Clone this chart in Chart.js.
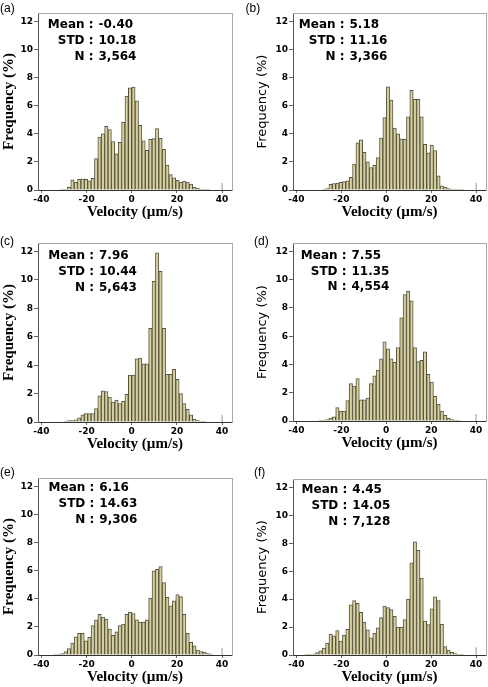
<!DOCTYPE html>
<html><head><meta charset="utf-8">
<script src="https://cdn.jsdelivr.net/npm/chart.js@4"></script>
<style>
html,body{margin:0;padding:0;background:#fff;}
body{width:488px;height:687px;position:relative;overflow:hidden;}
canvas{position:absolute;}
.lt{position:absolute;font:12px "Liberation Sans",Arial,sans-serif;color:#000;line-height:12px;white-space:nowrap;}
.st{position:absolute;font:bold 12px "DejaVu Sans",sans-serif;color:#000;line-height:15.7px;white-space:nowrap;}
.st span.l{display:inline-block;width:60px;text-align:right;}
.st span.v{margin-left:5px;}
</style></head><body>
<script>
// ---------- DATA ----------
const binCenters = [-36.75,-35.25,-33.75,-32.25,-30.75,-29.25,-27.75,-26.25,-24.75,-23.25,
  -21.75,-20.25,-18.75,-17.25,-15.75,-14.25,-12.75,-11.25,-9.75,-8.25,
  -6.75,-5.25,-3.75,-2.25,-0.75,0.75,2.25,3.75,5.25,6.75,
  8.25,9.75,11.25,12.75,14.25,15.75,17.25,18.75,20.25,21.75,
  23.25,24.75,26.25,27.75,29.25,30.75,32.25,33.75,35.25,36.75];

const freqA = [0,0,0,0,0.02,0.05,0.2,0.73,0.55,0.76,
  0.8,0.76,0.66,0.83,2.24,3.76,4.0,4.54,4.3,3.45,
  2.57,3.4,4.82,6.69,7.28,7.32,6.35,4.6,3.5,2.83,
  3.61,3.66,4.37,3.68,2.9,1.77,1.1,0.87,0.69,0.54,
  0.64,0.57,0.43,0.21,0.12,0.07,0.03,0.05,0,0];

const freqB = [0,0,0,0,0,0,0.05,0.1,0.4,0.45,
  0.5,0.55,0.6,0.65,0.9,1.85,3.35,3.57,2.69,2.0,
  1.6,1.76,2.3,3.69,5.15,7.35,6.4,4.4,4.0,3.65,
  3.6,5.2,7.1,6.45,6.45,5.2,3.25,2.65,3.2,2.8,
  1.0,0.3,0.2,0.1,0.05,0.05,0.03,0.03,0,0];

const freqC = [0,0,0,0,0,0.05,0.1,0.1,0.15,0.3,
  0.5,0.6,0.6,0.6,0.95,1.85,2.2,2.15,1.75,1.4,
  1.55,1.3,1.45,1.95,3.3,3.3,4.45,4.5,4.1,4.1,
  6.6,9.9,11.9,10.6,6.6,3.35,3.35,3.7,3.0,2.0,
  1.3,0.9,0.5,0.2,0.1,0.05,0.03,0,0,0];

const freqD = [0,0,0,0,0,0.03,0.05,0.1,0.2,0.3,
  0.95,0.7,0.7,1.44,2.64,2.47,3.0,1.5,1.5,1.63,
  2.64,3.2,3.6,4.4,5.6,5.1,4.4,4.15,5.2,7.3,
  8.95,9.2,8.5,5.2,4.2,4.3,4.9,3.3,2.75,1.75,
  1.2,0.7,0.4,0.2,0.1,0.05,0.03,0,0,0];

const freqE = [0,0,0.02,0.05,0.1,0.25,0.45,0.85,1.3,1.55,
  1.55,1.0,1.25,2.1,2.5,2.9,2.7,2.55,1.85,1.4,
  1.65,2.1,2.2,2.9,3.05,2.95,2.5,2.35,2.35,2.5,
  4.05,6.0,6.1,6.3,5.15,4.1,3.5,3.85,4.3,4.15,
  2.9,1.55,0.9,0.65,0.35,0.25,0.2,0.1,0.07,0];

const freqF = [0,0.02,0.04,0.07,0.17,0.3,0.5,0.85,1.5,1.37,
  1.75,1.0,1.4,1.83,3.6,3.9,3.7,3.05,2.35,1.8,
  1.23,1.57,1.95,2.67,3.5,3.4,3.25,2.77,2.0,2.0,
  2.53,4.0,6.6,8.1,7.5,5.5,2.43,2.17,3.3,4.17,
  3.9,2.2,0.6,0.36,0.2,0.1,0.05,0.02,0,0];

const edgeMarkVelocity = 40;
const edgeMarkFreq = [0.5,0.5,0.5,0.5,0.5,0.55];

const panelLetters = ['(a)','(b)','(c)','(d)','(e)','(f)'];
const statMean = ['-0.40','5.18','7.96','7.55','6.16','4.45'];
const statSTD  = ['10.18','11.16','10.44','11.35','14.63','14.05'];
const statN    = ['3,564','3,366','5,643','4,554','9,306','7,128'];

const xTickValues = [-40,-20,0,20,40];
const yTickValues = [0,2,4,6,8,10,12];
const xTitle = 'Velocity (µm/s)';
const yTitle = 'Frequency (%)';

// ---------- LAYOUT ----------
const panels = [
  {L:0,   T:0,   W:240, H:230, cl:38,  ct:13,  cr:232, cb:190, serif:true,  lx:0,   ly:1.5,   colon:93.5,  s0:25},
  {L:244, T:0,   W:244, H:230, cl:293, ct:13,  cr:486, cb:190, serif:false, lx:245.5,ly:1.5,  colon:344.5, s0:25},
  {L:0,   T:230, W:240, H:232, cl:38,  ct:243, cr:232, cb:422, serif:true,  lx:0,   ly:235,   colon:94,    s0:256},
  {L:244, T:230, W:244, H:232, cl:293, ct:243, cr:486, cb:421, serif:false, lx:254, ly:235,   colon:346.5, s0:255.7},
  {L:0,   T:462, W:240, H:225, cl:38,  ct:478, cr:232, cb:655, serif:true,  lx:0,   ly:465.5, colon:94.3,  s0:488.3},
  {L:244, T:462, W:244, H:225, cl:293, ct:479, cr:486, cb:655, serif:false, lx:254, ly:466,   colon:347.3, s0:490}
];
const freqs = [freqA,freqB,freqC,freqD,freqE,freqF];

const BAR_FILL = 'rgb(216,208,158)';
const BAR_EDGE = 'rgb(85,85,65)';
const tickFont = {family:'"DejaVu Sans", sans-serif', size:9, weight:'bold'};

panels.forEach((p, idx) => {
  const c = document.createElement('canvas');
  c.width = p.W; c.height = p.H;
  c.style.left = p.L + 'px'; c.style.top = p.T + 'px';
  c.style.width = p.W + 'px'; c.style.height = p.H + 'px';
  document.body.appendChild(c);

  const yFont = p.serif ? {family:'"Liberation Serif", serif', size:15, weight:'bold'}
                        : {family:'"DejaVu Sans", sans-serif', size:13, weight:'normal'};
  const yLh = yFont.size * 1.2;
  const yTitleCenter = p.serif ? 8.5 : 18.3;
  const yPad = Math.max(0, yTitleCenter - yLh / 2);
  const xTitleCenterY = p.cb + 22 - p.T;
  const xPad = Math.max(0, p.H - xTitleCenterY - 9);

  const freq = freqs[idx];
  new Chart(c, {
    type: 'bar',
    data: {
      datasets: [
        {type:'bar', data: binCenters.map((x, i) => ({x: x, y: freq[i]})),
         backgroundColor: BAR_FILL, borderColor: BAR_EDGE, borderWidth: 1,
         barPercentage: 1, categoryPercentage: 1, order: 2},
        {type:'line', data: [{x: edgeMarkVelocity, y: 0}, {x: edgeMarkVelocity, y: edgeMarkFreq[idx]}],
         borderColor: '#9a9a9a', borderWidth: 1, pointRadius: 0, fill: false, order: 1}
      ]
    },
    options: {
      responsive: false, maintainAspectRatio: false, animation: false, devicePixelRatio: 1,
      events: [],
      layout: {padding: {left: 0, top: p.ct - p.T, right: p.L + p.W - p.cr, bottom: 0}},
      plugins: {legend: {display: false}, tooltip: {enabled: false}},
      scales: {
        x: {type: 'linear', position: 'bottom', min: -41.5, max: 44.4, offset: false,
            afterBuildTicks: s => { s.ticks = xTickValues.map(v => ({value: v})); },
            afterFit: s => { s.height = p.T + p.H - p.cb; },
            ticks: {font: tickFont, color: '#000', padding: 1, maxRotation: 0, autoSkip: false},
            grid: {offset: false, drawOnChartArea: false, drawTicks: true, tickLength: 3, color: '#666'},
            border: {display: true, color: '#333', width: 1},
            title: {display: true, text: xTitle, color: '#000',
                    font: {family: '"Liberation Serif", serif', size: 15, weight: 'bold'},
                    padding: {top: 0, bottom: xPad}}},
        y: {type: 'linear', position: 'left', min: 0, max: 12.6,
            afterBuildTicks: s => { s.ticks = yTickValues.map(v => ({value: v})); },
            afterFit: s => { s.width = p.cl - p.L; },
            ticks: {font: tickFont, color: '#000', padding: 1},
            grid: {drawOnChartArea: false, drawTicks: true, tickLength: 4, color: '#666'},
            border: {display: true, color: '#555', width: 1},
            title: {display: true, text: yTitle, color: '#000', font: yFont,
                    padding: {top: yPad, bottom: 0}}},
        xt: {type: 'linear', position: 'top', display: true,
             ticks: {display: false}, grid: {display: false, drawTicks: false},
             border: {display: true, color: '#a8a8a8', width: 1},
             afterFit: s => { s.height = 0; }},
        yr: {type: 'linear', position: 'right', display: true,
             ticks: {display: false}, grid: {display: false, drawTicks: false},
             border: {display: true, color: '#a8a8a8', width: 1},
             afterFit: s => { s.width = 0; }}
      }
    }
  });

  // panel letter
  const lt = document.createElement('div');
  lt.className = 'lt';
  lt.style.left = p.lx + 'px'; lt.style.top = p.ly + 'px';
  lt.textContent = panelLetters[idx];
  document.body.appendChild(lt);

  // stats block
  const rows = [['Mean :', statMean[idx]], ['STD :', statSTD[idx]], ['N :', statN[idx]]];
  rows.forEach((r, j) => {
    const d = document.createElement('div');
    d.className = 'st';
    d.style.left = (p.colon - 60) + 'px';
    d.style.top = (p.s0 + j * 15.7 - 7.85) + 'px';
    const l = document.createElement('span'); l.className = 'l'; l.textContent = r[0];
    const v = document.createElement('span'); v.className = 'v'; v.textContent = r[1];
    d.appendChild(l); d.appendChild(v);
    document.body.appendChild(d);
  });
});
</script>
</body></html>
